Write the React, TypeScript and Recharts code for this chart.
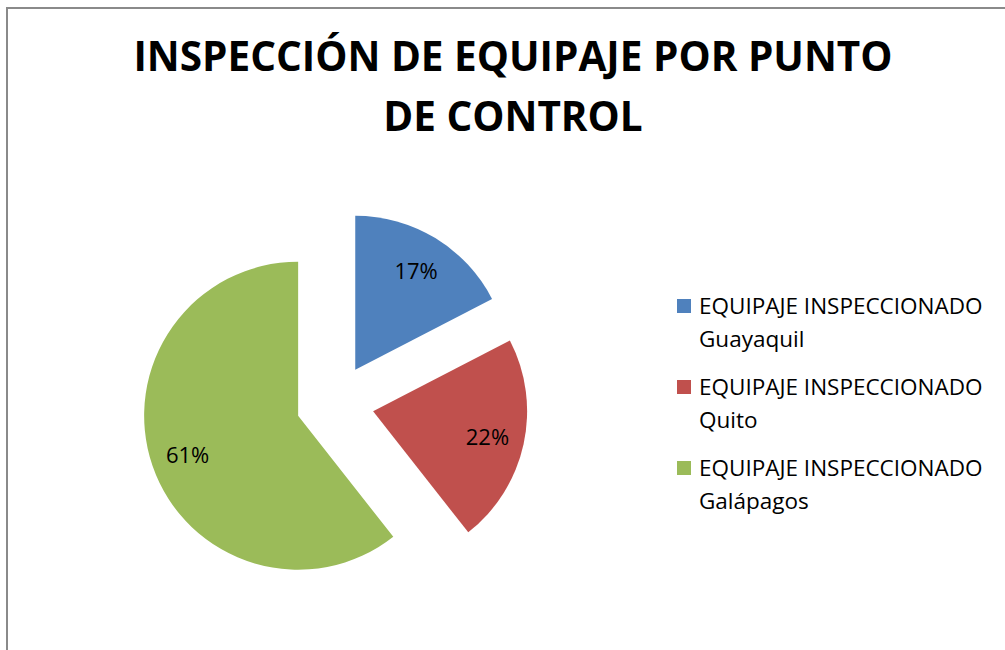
import { PieChart, Pie, Cell, Legend, Sector } from "recharts";

const categories = [
  "EQUIPAJE INSPECCIONADO Guayaquil",
  "EQUIPAJE INSPECCIONADO Quito",
  "EQUIPAJE INSPECCIONADO Galápagos",
];
const shares = [17.4, 22.0, 60.6];
const colors = ["#4F81BD", "#C0504D", "#9BBB59"];

const data = categories.map((name, i) => ({ name, value: shares[i] }));

const RAD = Math.PI / 180;
const EXPLODE = 39;
const FONT = "'Open Sans', 'Noto Sans', sans-serif";

// every slice pulled out along its own middle angle
const ExplodedSector = (props: any) => {
  const { cx, cy, midAngle } = props;
  const dx = EXPLODE * Math.cos(-midAngle * RAD);
  const dy = EXPLODE * Math.sin(-midAngle * RAD);
  return <Sector {...props} cx={cx + dx} cy={cy + dy} stroke="none" />;
};

const renderLabel = (props: any) => {
  const { cx, cy, midAngle, percent } = props;
  const r = EXPLODE + 117;
  const x = cx + r * Math.cos(-midAngle * RAD);
  const y = cy + r * Math.sin(-midAngle * RAD);
  return (
    <text
      x={x}
      y={y}
      textAnchor="middle"
      dominantBaseline="central"
      fill="#000"
      style={{ fontFamily: FONT, fontSize: 22 }}
    >
      {`${Math.round(percent * 100)}%`}
    </text>
  );
};

const LegendBox = () => (
  <div style={{ fontFamily: FONT, fontSize: 22.5, lineHeight: "33px", color: "#000" }}>
    {data.map((d, i) => {
      const cut = d.name.lastIndexOf(" ");
      return (
        <div key={d.name} style={{ position: "relative", height: 66, marginBottom: 15, paddingLeft: 22 }}>
          <span
            style={{
              position: "absolute",
              left: 0,
              top: 10,
              width: 14,
              height: 14,
              background: colors[i],
            }}
          />
          <div style={{ whiteSpace: "nowrap" }}>{d.name.slice(0, cut)}</div>
          <div style={{ whiteSpace: "nowrap" }}>{d.name.slice(cut + 1)}</div>
        </div>
      );
    })}
  </div>
);

export default function App() {
  return (
    <div
      style={{
        position: "absolute",
        left: 0,
        top: 0,
        width: 1005,
        height: 650,
        overflow: "hidden",
        background: "#fff",
      }}
    >
      <div
        style={{
          position: "absolute",
          left: 6,
          top: 7,
          width: 1100,
          height: 800,
          border: "2px solid #8a8a8a",
          boxSizing: "border-box",
        }}
      />
      <div
        style={{
          position: "absolute",
          left: 13,
          top: 26,
          width: 1000,
          textAlign: "center",
          fontFamily: FONT,
          fontWeight: 700,
          fontSize: 40.5,
          lineHeight: "60px",
          color: "#000",
        }}
      >
        INSPECCIÓN DE EQUIPAJE POR PUNTO
        <br />
        DE CONTROL
      </div>
      <div style={{ position: "absolute", left: 0, top: 0 }}>
        <PieChart width={1005} height={650} margin={{ top: 0, right: 0, bottom: 0, left: 0 }}>
          <Pie
            data={data}
            dataKey="value"
            nameKey="name"
            cx={335}
            cy={403}
            outerRadius={154}
            startAngle={90}
            endAngle={-270}
            stroke="none"
            shape={ExplodedSector}
            label={renderLabel}
            labelLine={false}
            isAnimationActive={false}
          >
            {data.map((d, i) => (
              <Cell key={d.name} fill={colors[i]} />
            ))}
          </Pie>
          <Legend
            content={<LegendBox />}
            layout="vertical"
            align="right"
            verticalAlign="top"
            wrapperStyle={{ left: 677, top: 289, width: 325, right: "auto" }}
          />
        </PieChart>
      </div>
    </div>
  );
}
